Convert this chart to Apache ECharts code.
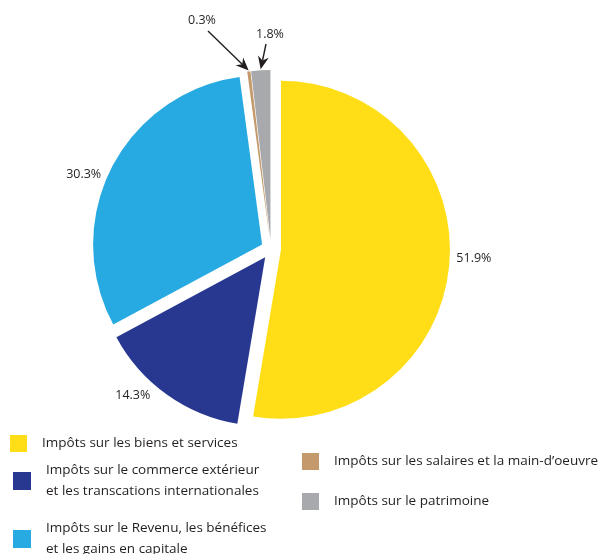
<!DOCTYPE html>
<html>
<head>
<meta charset="utf-8">
<script src="https://cdn.jsdelivr.net/npm/echarts@6/dist/echarts.min.js"></script>
<style>
html,body{margin:0;padding:0;background:#fff;}
#chart{width:602px;height:554px;}
</style>
</head>
<body>
<div id="chart"></div>
<script>
// ---- data ----
const categories = [
  "Impôts sur les biens et services",
  "Impôts sur le commerce extérieur\net les transcations internationales",
  "Impôts sur le Revenu, les bénéfices\net les gains en capitale",
  "Impôts sur les salaires et la main-d’oeuvre",
  "Impôts sur le patrimoine"
];
const values = [51.9, 14.3, 30.3, 0.3, 1.8];
const colors = ["#FFDE17", "#283891", "#27AAE1", "#C49A6C", "#A7A9AC"];

// ---- layout ----
const FONT = "Open Sans";
const CX = 271, CY = 249, R = 169, OFF = 10;
const TXT = "#231F20";

const chart = echarts.init(document.getElementById('chart'), null, {renderer: 'canvas'});

// annotation positions for the two tiny slices
const smallLabelPos = {3: [202, 20], 4: [270, 34]};
const arrowStarts = {3: [208, 31], 4: [266, 44]};

function sliceTip(i) {
  const total = values.reduce((a, b) => a + b, 0);
  let before = 0;
  for (let k = 0; k < i; k++) before += values[k];
  const mid = (before + values[i] / 2) / total * 2 * Math.PI;
  const dx = Math.sin(mid), dy = -Math.cos(mid);
  const rr = R + OFF + 1;
  return [CX + rr * dx, CY + rr * dy];
}
function arrow(from, to) {
  const ang = Math.atan2(to[1] - from[1], to[0] - from[0]);
  const L = 13, W = 5.5, N = 9;
  const ux = Math.cos(ang), uy = Math.sin(ang);
  const px = -uy, py = ux;
  const bx = to[0] - ux * L, by = to[1] - uy * L;
  const nx = to[0] - ux * N, ny = to[1] - uy * N;
  return [
    {type: 'line', shape: {x1: from[0], y1: from[1], x2: nx, y2: ny}, style: {stroke: '#231F20', lineWidth: 1.4}},
    {type: 'polygon', shape: {points: [to, [bx + px * W, by + py * W], [nx, ny], [bx - px * W, by - py * W]]}, style: {fill: '#231F20'}}
  ];
}
let graphics = [];
[3, 4].forEach(i => {
  graphics = graphics.concat(arrow(arrowStarts[i], sliceTip(i)));
  graphics.push({
    type: 'text', x: smallLabelPos[i][0], y: smallLabelPos[i][1],
    style: {text: values[i] + '%', fontFamily: FONT, fontSize: 12.5, fill: TXT, align: 'center', verticalAlign: 'middle'}
  });
});

const legendBase = {
  orient: 'vertical',
  icon: 'rect',
  itemWidth: 17,
  itemHeight: 17,
  padding: 0,
  selectedMode: false,
  textStyle: {fontFamily: FONT, fontSize: 13.5, color: TXT, lineHeight: 21, padding: [0, 0, 0, 10]}
};
const legendPos = [[10, 433], [13, 460], [13, 518], [302, 451], [302, 491]];

chart.setOption({
  animation: false,
  legend: categories.map((c, i) => Object.assign({}, legendBase, {
    data: [c], left: legendPos[i][0], top: legendPos[i][1],
    itemWidth: i === 0 || i > 2 ? 17 : 18,
    itemHeight: i === 0 || i > 2 ? 17 : 18
  })),
  graphic: graphics,
  series: [{
    type: 'pie',
    center: [CX, CY],
    radius: R,
    startAngle: 90,
    clockwise: true,
    selectedMode: 'multiple',
    selectedOffset: OFF,
    avoidLabelOverlap: false,
    emphasis: {disabled: true},
    select: {itemStyle: {}},
    label: {
      show: true,
      position: 'outside',
      formatter: p => p.value + '%',
      fontFamily: FONT,
      fontSize: 12.5,
      color: TXT
    },
    labelLine: {show: false, length: 6, length2: 0},
    labelLayout: function (params) {
      const i = params.dataIndex;
      if (i === 0) return {dx: -4, dy: -6};
      if (i === 1) return {dx: -8, dy: -4};
      if (i === 2) return {dy: 9};
      return {};
    },
    data: categories.map((c, i) => ({
      name: c, value: values[i], selected: true, itemStyle: {color: colors[i]},
      label: {show: i < 3}
    }))
  }]
});
</script>
</body>
</html>
